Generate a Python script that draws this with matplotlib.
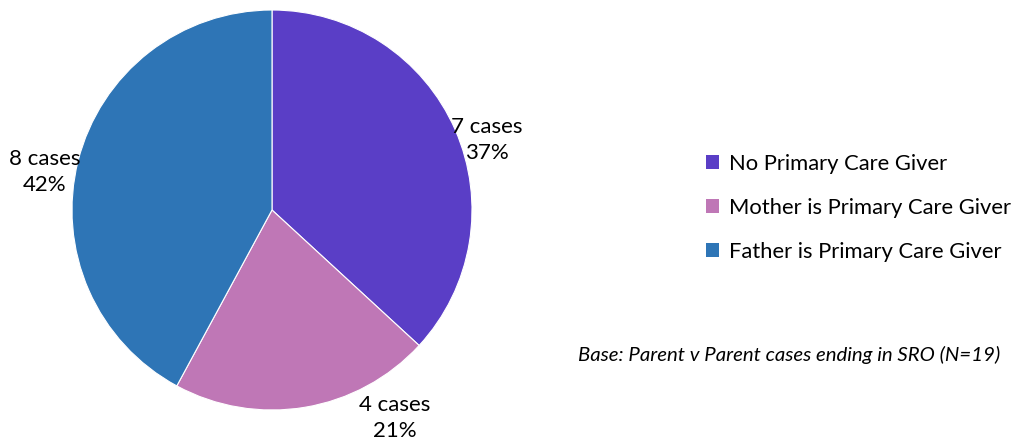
import matplotlib
matplotlib.use("Agg")
import matplotlib.pyplot as plt
from matplotlib.patches import Patch

plt.rcParams['font.family'] = ['Lato', 'DejaVu Sans']

categories = ["No Primary Care Giver", "Mother is Primary Care Giver", "Father is Primary Care Giver"]
cases = [7, 4, 8]
percent_labels = ["37%", "21%", "42%"]
colors = ["#5A3EC6", "#BF77B6", "#2E75B6"]
label_pos = [(1.075, 0.35), (0.615, -1.04), (-1.135, 0.19)]

fig = plt.figure(figsize=(10.19, 4.43), dpi=100)
ax = fig.add_axes([72/1019, 33/443, 400/1019, 400/443])
ax.pie(cases, colors=colors, startangle=90, counterclock=False, radius=1.0,
       wedgeprops=dict(linewidth=0.8, edgecolor="white"))
ax.set_xlim(-1, 1)
ax.set_ylim(-1, 1)
ax.set_aspect('equal')
ax.axis('off')

for n, p, (x, y) in zip(cases, percent_labels, label_pos):
    ax.text(x, y, f"{n} cases\n{p}", ha='center', va='center', fontsize=16,
            linespacing=1.4, color='black', clip_on=False)

handles = [Patch(facecolor=c, edgecolor='none') for c in colors]
fig.legend(handles, categories, loc='center left', bbox_to_anchor=(706/1019, 1 - 208/443),
           frameon=False, fontsize=15.8, handlelength=0.6, handleheight=0.6,
           handletextpad=0.45, labelspacing=1.1, borderaxespad=0, borderpad=0)

fig.text(1000/1019, 1 - 355/443, "Base: Parent v Parent cases ending in SRO (N=19)",
         ha='right', va='center', fontsize=14.7, style='italic')

fig.savefig("out.png", dpi=100)
